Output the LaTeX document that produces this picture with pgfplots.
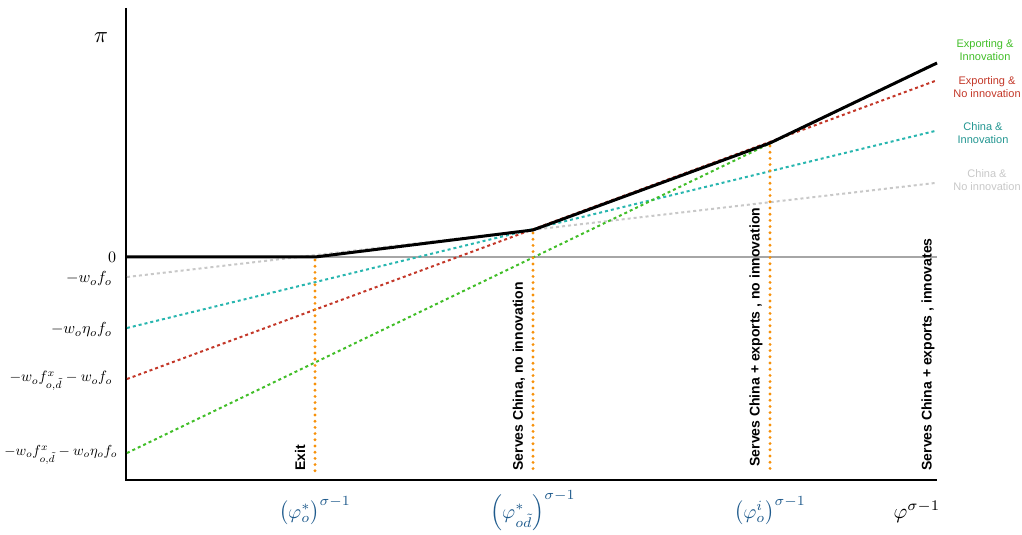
\documentclass[border=0pt]{standalone}
\usepackage{pgfplots}
\pgfplotsset{compat=1.18}
\usepackage{fontspec}
\setsansfont{Liberation Sans}
\definecolor{cgreen}{RGB}{65,190,40}
\definecolor{cred}{RGB}{195,55,40}
\definecolor{cteal}{RGB}{40,182,175}
\definecolor{cgray}{RGB}{200,200,200}
\definecolor{corange}{RGB}{247,145,10}
\definecolor{cblue}{RGB}{30,90,140}
\definecolor{tteal}{RGB}{35,150,145}
\begin{document}
\begin{tikzpicture}
\begin{axis}[x=1pt,y=1pt,xmin=126,xmax=937,ymin=-480,ymax=-8,hide axis,clip=false]
% zero line
\addplot[color=black!35, line width=1.8pt] coordinates {(126,-257)(937,-257)};
% axes
\addplot[black, line width=1.4pt] coordinates {(126,-8)(126,-480)(937,-480)};
% strategy lines
\addplot[cgray, line width=2pt, dash pattern=on 3pt off 3pt] coordinates {(127,-277)(935,-183)};
\addplot[cteal, line width=2pt, dash pattern=on 3pt off 3pt] coordinates {(127,-328)(935,-131)};
\addplot[cred, line width=2pt, dash pattern=on 3pt off 3pt] coordinates {(127,-379)(935,-81)};
\addplot[cgreen, line width=2pt, dash pattern=on 3pt off 3pt] coordinates {(127,-453)(935,-64)};
% thresholds
\addplot[corange, line width=3.2pt, line cap=round, dash pattern=on 0pt off 6.2pt] coordinates {(315,-260)(315,-474)};
\addplot[corange, line width=3.2pt, line cap=round, dash pattern=on 0pt off 6.2pt] coordinates {(533,-233)(533,-474)};
\addplot[corange, line width=3.2pt, line cap=round, dash pattern=on 0pt off 6.2pt] coordinates {(770,-146)(770,-474)};
% envelope
\addplot[black, line width=3pt] coordinates {(126,-257)(315,-257)(533,-230)(770,-143)(937,-63)};
% region labels
\node[rotate=90, anchor=west, font=\sffamily\bfseries\fontsize{14}{17}\selectfont] at (axis cs:300,-474) {Exit};
\node[rotate=90, anchor=west, font=\sffamily\bfseries\fontsize{14}{17}\selectfont] at (axis cs:519,-474) {Serves China, no innovation};
\node[rotate=90, anchor=west, font=\sffamily\bfseries\fontsize{14}{17}\selectfont] at (axis cs:756,-470) {Serves China + exports , no innovation};
\node[rotate=90, anchor=west, font=\sffamily\bfseries\fontsize{14}{17}\selectfont] at (axis cs:928,-474) {Serves China + exports , innovates};
% y labels
\node[anchor=east, scale=1.6, inner sep=1pt] at (axis cs:118,-257) {$0$};
\node[anchor=east, scale=1.6, inner sep=1pt] at (axis cs:114,-279) {$-w_o f_o$};
\node[anchor=east, scale=1.6, inner sep=1pt] at (axis cs:114,-330) {$-w_o \eta_o f_o$};
\node[anchor=east, scale=1.5, inner sep=1pt] at (axis cs:114,-381) {$-w_o f^x_{o,\tilde d} - w_o f_o$};
\node[anchor=east, scale=1.45, inner sep=1pt] at (axis cs:119,-455) {$-w_o f^x_{o,\tilde d} - w_o \eta_o f_o$};
\node[scale=2.3] at (axis cs:101,-38) {$\pi$};
% x labels
\node[text=cblue, scale=2.0] at (axis cs:315,-511) {$\bigl(\varphi_o^*\bigr)^{\sigma-1}$};
\node[text=cblue, scale=2.0] at (axis cs:533,-511) {$\Bigl(\varphi_{o\tilde d}^*\Bigr)^{\sigma-1}$};
\node[text=cblue, scale=2.0] at (axis cs:770,-511) {$\bigl(\varphi_o^i\bigr)^{\sigma-1}$};
\node[scale=2.1] at (axis cs:917,-512) {$\varphi^{\sigma-1}$};
% legend texts
\node[align=center, text=cgreen, font=\sffamily\fontsize{11}{13}\selectfont] at (axis cs:985,-50) {Exporting \&\\Innovation};
\node[align=center, text=cred, font=\sffamily\fontsize{11}{13}\selectfont] at (axis cs:987,-87) {Exporting \&\\No innovation};
\node[align=center, text=tteal, font=\sffamily\fontsize{11}{13}\selectfont] at (axis cs:983,-133) {China \&\\Innovation};
\node[align=center, text=cgray, font=\sffamily\fontsize{11}{13}\selectfont] at (axis cs:987,-180) {China \&\\No innovation};
\coordinate (bbl) at (axis cs:0,-535);
\coordinate (btr) at (axis cs:1022,0);
\end{axis}
\pgfresetboundingbox
\path (bbl) rectangle (btr);
\end{tikzpicture}
\end{document}
